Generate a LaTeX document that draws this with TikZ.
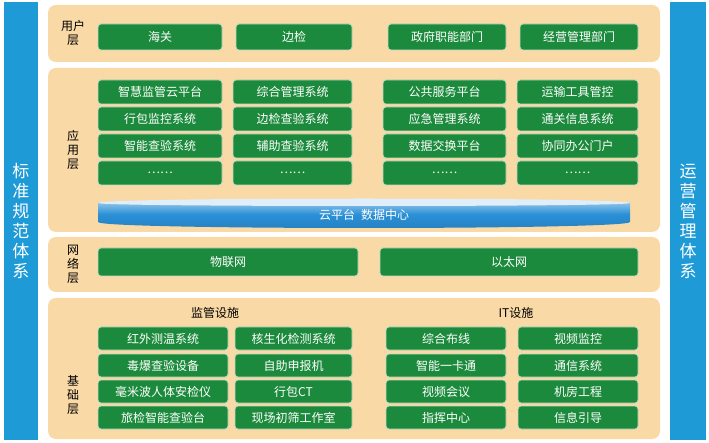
\documentclass[tikz,border=0pt]{standalone}
\usepackage{fontspec}
\newfontfamily\cjk{Noto Sans CJK SC}
\definecolor{layerfill}{HTML}{F9D9A6}
\definecolor{boxgreen}{HTML}{1C8A3C}
\definecolor{sidebar}{HTML}{1E9BD7}
\definecolor{cloudblue}{HTML}{2A8FD6}
\tikzset{
  layer/.style={fill=layerfill,draw=none,rounded corners=8pt},
  gbox/.style={fill=boxgreen,draw=white!70!boxgreen,line width=0.8pt,rounded corners=3pt,
    text=white,font=\cjk\fontsize{12}{12}\selectfont,inner sep=0pt},
  side/.style={fill=sidebar,draw=none,text=white,font=\cjk\fontsize{17}{20}\selectfont},
  lname/.style={font=\cjk\fontsize{12}{14}\selectfont,align=center},
}
\newcommand{\gb}[5]{\node[gbox,minimum width=#3-#1,minimum height=#4-#2] at ({(#1+#3)/2},{(#2+#4)/2}) {#5};}
\begin{document}
\begin{tikzpicture}[x=1pt,y=-1pt]
  \useasboundingbox (0,0) rectangle (709,443);
  \fill[white] (0,0) rectangle (709,443);
  % side bars
  \node[side,minimum width=34,minimum height=438,align=center] (std) at (21,221) {标\\准\\规\\范\\体\\系};
  \node[side,minimum width=36,minimum height=438,align=center] (ops) at (688,221) {运\\营\\管\\理\\体\\系};
  % layers
  \fill[layer] (48,5) rectangle (660,62);
  \fill[layer] (48,68) rectangle (660,232);
  \fill[layer] (48,237) rectangle (660,292);
  \fill[layer] (48,298) rectangle (660,439);
  \node[lname] (user) at (73,33) {用户\\层};
  \node[lname] (app) at (73,150) {应\\用\\层};
  \node[lname] (net) at (73,264) {网\\络\\层};
  \node[lname] (base) at (73,395) {基\\础\\层};
  % user layer
  \gb{98}{24}{222}{50}{海关}
  \gb{236}{24}{352}{50}{边检}
  \gb{388}{24}{506}{50}{政府职能部门}
  \gb{520}{24}{638}{50}{经营管理部门}
  % application layer
  \foreach \ya/\yb/\a/\b/\c/\d in {
      80/104/智慧监管云平台/综合管理系统/公共服务平台/运输工具管控,
      107/131/行包监控系统/边检查验系统/应急管理系统/通关信息系统,
      134/158/智能查验系统/辅助查验系统/数据交换平台/协同办公门户,
      161/185/……/……/……/……}{
    \gb{98}{\ya}{222}{\yb}{\a}
    \gb{233}{\ya}{352}{\yb}{\b}
    \gb{383}{\ya}{506}{\yb}{\c}
    \gb{517}{\ya}{638}{\yb}{\d}
  }
  \shade[top color=cloudblue!40!white,bottom color=cloudblue!90!black,middle color=cloudblue]
    (98,203) .. controls (98,199) and (630,199) .. (630,203) -- (630,222)
    .. controls (630,230) and (98,230) .. (98,222) -- cycle;
  \fill[white!85!cloudblue] (98,203) .. controls (98,197) and (630,197) .. (630,203)
    .. controls (630,207) and (98,207) .. (98,203);
  \node[text=white,font=\cjk\fontsize{12}{12}\selectfont] (cloud) at (364,215) {云平台\enspace 数据中心};
  % network layer
  \gb{98}{248}{358}{276}{物联网}
  \gb{380}{248}{638}{276}{以太网}
  % base layer
  \node[lname] (sup) at (215,313) {监管设施};
  \node[lname] (it) at (516,313) {IT设施};
  \foreach \ya/\yb/\a/\b/\c/\d in {
      327/350/红外测温系统/核生化检测系统/综合布线/视频监控,
      354/377/毒爆查验设备/自助申报机/智能一卡通/通信系统,
      380/403/毫米波人体安检仪/行包CT/视频会议/机房工程,
      406/429/旅检智能查验台/现场初筛工作室/指挥中心/信息引导}{
    \gb{98}{\ya}{228}{\yb}{\a}
    \gb{235}{\ya}{352}{\yb}{\b}
    \gb{386}{\ya}{506}{\yb}{\c}
    \gb{518}{\ya}{638}{\yb}{\d}
  }
\end{tikzpicture}
\end{document}
